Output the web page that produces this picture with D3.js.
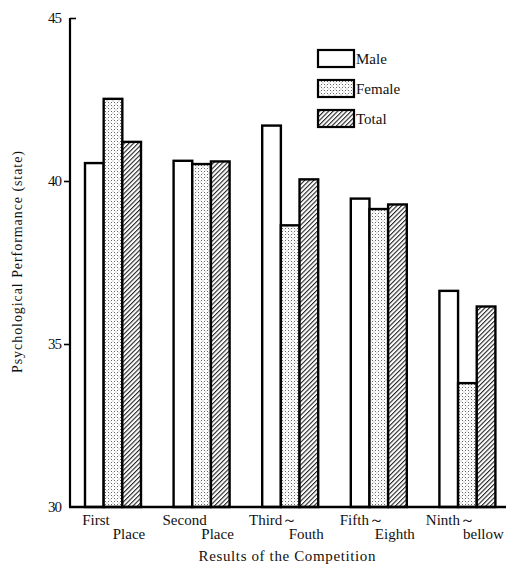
<!DOCTYPE html>
<html><head><meta charset="utf-8">
<script src="https://cdn.jsdelivr.net/npm/d3@7"></script>
<style>
html,body{margin:0;padding:0;background:#fff;}
text{font-family:"Liberation Serif","DejaVu Serif",serif;fill:#111;}
</style></head>
<body>
<svg id="chart" width="510" height="566"></svg>
<script>
const categories = ["First Place","Second Place","Third～Fouth","Fifth～Eighth","Ninth～bellow"];
const labelLine1 = ["First","Second","Third～","Fifth～","Ninth～"];
const labelLine2 = ["Place","Place","Fouth","Eighth","bellow"];
const seriesNames = ["Male","Female","Total"];
const male   = [40.55, 40.62, 41.70, 39.46, 36.63];
const female = [42.52, 40.52, 38.64, 39.14, 33.80];
const total  = [41.20, 40.60, 40.05, 39.28, 36.15];
const yTicks = [30, 35, 40, 45];
const yTitle = "Psychological Performance (state)";
const xTitle = "Results of the Competition";

const series = [male, female, total];
const svg = d3.select("#chart");
const defs = svg.append("defs");

// stipple pattern
const dots = defs.append("pattern").attr("id","dots").attr("patternUnits","userSpaceOnUse")
  .attr("width",3).attr("height",3);
dots.append("rect").attr("width",3).attr("height",3).attr("fill","#fff");
dots.append("rect").attr("x",0).attr("y",0).attr("width",1).attr("height",1).attr("fill","#666");
const dots2 = defs.append("pattern").attr("id","dotsB").attr("patternUnits","userSpaceOnUse")
  .attr("width",6).attr("height",6);
dots2.append("rect").attr("width",6).attr("height",6).attr("fill","url(#dots)");
dots2.append("rect").attr("x",1.5).attr("y",1.5).attr("width",1).attr("height",1).attr("fill","#999");
dots2.append("rect").attr("x",4.5).attr("y",4.5).attr("width",1).attr("height",1).attr("fill","#999");

// hatch pattern
const hatch = defs.append("pattern").attr("id","hatch").attr("patternUnits","userSpaceOnUse")
  .attr("width",3.2).attr("height",3.2).attr("patternTransform","rotate(45)");
hatch.append("rect").attr("width",3.2).attr("height",3.2).attr("fill","#fff");
hatch.append("line").attr("x1",0).attr("y1",0).attr("x2",0).attr("y2",3.2)
  .attr("stroke","#222").attr("stroke-width",2.2);

const fills = ["#fff","url(#dotsB)","url(#hatch)"];

const y = d3.scaleLinear().domain([30,45]).range([507,18]);
const x0 = d3.scaleBand().domain(categories).range([85,495.4]).paddingInner(0.368).paddingOuter(0);
const x1 = d3.scaleBand().domain(seriesNames).range([0,x0.bandwidth()]);

// bars
categories.forEach((c,i)=>{
  seriesNames.forEach((s,j)=>{
    svg.append("rect")
      .attr("x", x0(c)+x1(s))
      .attr("y", y(series[j][i]))
      .attr("width", x1.bandwidth())
      .attr("height", y(30)-y(series[j][i]))
      .attr("fill", fills[j])
      .attr("stroke","#000").attr("stroke-width",2.4);
  });
});

// y axis
const yAxis = d3.axisLeft(y).tickValues(yTicks).tickSize(6).tickPadding(3);
const gy = svg.append("g").attr("transform","translate(70,0)").call(yAxis);
gy.select(".domain").remove();
gy.selectAll(".tick line").attr("stroke","#000").attr("stroke-width",1.6)
  .attr("x2", d=> d===45 ? 6 : (d===30?0:-6));
gy.selectAll(".tick text").attr("font-size",15).attr("font-family","Liberation Serif").attr("fill","#111")
  .attr("letter-spacing","-1px");
svg.append("line").attr("x1",70).attr("x2",70).attr("y1",y(45)).attr("y2",y(30))
  .attr("stroke","#000").attr("stroke-width",2.2);
// x axis baseline
svg.append("line").attr("x1",69).attr("x2",506).attr("y1",y(30)).attr("y2",y(30))
  .attr("stroke","#000").attr("stroke-width",2.4);

// category labels
categories.forEach((c,i)=>{
  const cx = x0(c)+x0.bandwidth()/2;
  svg.append("text").attr("x",cx-17).attr("y",525).attr("text-anchor","middle")
    .attr("font-size",15).text(labelLine1[i]);
  svg.append("text").attr("x",cx+16).attr("y",539).attr("text-anchor","middle")
    .attr("font-size",15).text(labelLine2[i]);
});

// titles
svg.append("text").attr("x",287).attr("y",561).attr("text-anchor","middle")
  .attr("font-size",15).attr("textLength",177).attr("lengthAdjust","spacing").text(xTitle);
svg.append("text").attr("transform","translate(22,262) rotate(-90)").attr("text-anchor","middle")
  .attr("font-size",14).attr("textLength",222).attr("lengthAdjust","spacing").text(yTitle);

// legend
const legendY = [50,80,110];
seriesNames.forEach((s,j)=>{
  svg.append("rect").attr("x",318).attr("y",legendY[j]).attr("width",36).attr("height",17)
    .attr("fill",fills[j]).attr("stroke","#000").attr("stroke-width",2.2);
  svg.append("text").attr("x",356).attr("y",legendY[j]+14).attr("font-size",15).text(s);
});
</script>
</body></html>
